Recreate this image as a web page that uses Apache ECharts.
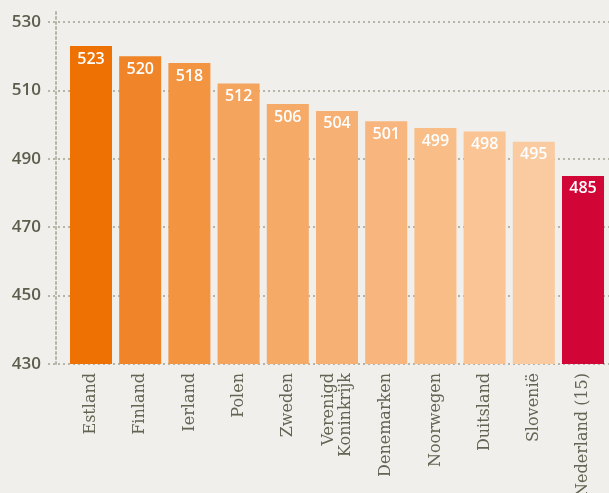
<!DOCTYPE html>
<html><head><meta charset="utf-8">
<script src="https://cdn.jsdelivr.net/npm/echarts@6/dist/echarts.min.js"></script>
<style>html,body{margin:0;padding:0;background:#f0efeb;}#c{width:609px;height:493px;}</style>
</head><body><div id="c"></div>
<script>
const categories = ["Estland","Finland","Ierland","Polen","Zweden","Verenigd\nKoninkrijk","Denemarken","Noorwegen","Duitsland","Slovenië","Nederland (15)"];
const values = [523,520,518,512,506,504,501,499,498,495,485];
const colors = ["#ee7203","#f08429","#f29440","#f5a45d","#f6aa68","#f7b073","#f8b67e","#f9bd88","#fac494","#facba0","#d20537"];
const yTicks = [430,450,470,490,510,530];

const chart = echarts.init(document.getElementById('c'));
const dot = {color:'#b5b5a8', width:2, type:[2,3]};
chart.setOption({
  backgroundColor:'#f0efeb',
  animation:false,
  grid:[
    {left:48, right:0, top:22, bottom:129, outerBoundsMode:'none', containLabel:false},
    {left:66.4, right:1.4, top:22, bottom:129, outerBoundsMode:'none', containLabel:false},
    {left:56, width:1, top:10, bottom:129, outerBoundsMode:'none', containLabel:false}
  ],
  xAxis:[
    {gridIndex:0, type:'value', show:false, min:0, max:1},
    {gridIndex:1, type:'category', data:categories,
      axisLine:{show:false}, axisTick:{show:false},
      axisLabel:{rotate:90, interval:0, margin:9, color:'#646454', fontFamily:'DejaVu Serif', fontSize:16, lineHeight:17}},
    {gridIndex:2, type:'value', show:false, min:0, max:1}
  ],
  yAxis:[
    {gridIndex:0, type:'value', min:yTicks[0], max:yTicks[yTicks.length-1], interval:20,
      axisLine:{show:false}, axisTick:{show:false},
      axisLabel:{margin:7, color:'#5d5d4c', fontFamily:'Open Sans', fontWeight:600, fontSize:17},
      splitLine:{show:true, lineStyle:dot}},
    {gridIndex:1, type:'value', min:yTicks[0], max:yTicks[yTicks.length-1], interval:20, show:false},
    {gridIndex:2, type:'value', min:0, max:1,
      axisLine:{show:true, lineStyle:dot}, axisTick:{show:false}, axisLabel:{show:false}, splitLine:{show:false}}
  ],
  series:[{
    type:'bar', xAxisIndex:1, yAxisIndex:1,
    data: values.map((v,i)=>({value:v, itemStyle:{color:colors[i]}})),
    barCategoryGap:'14.6%',
    label:{show:true, position:'insideTop', distance:5, color:'#ffffff', fontFamily:'Open Sans', fontWeight:600, fontSize:16}
  }]
});
</script></body></html>
